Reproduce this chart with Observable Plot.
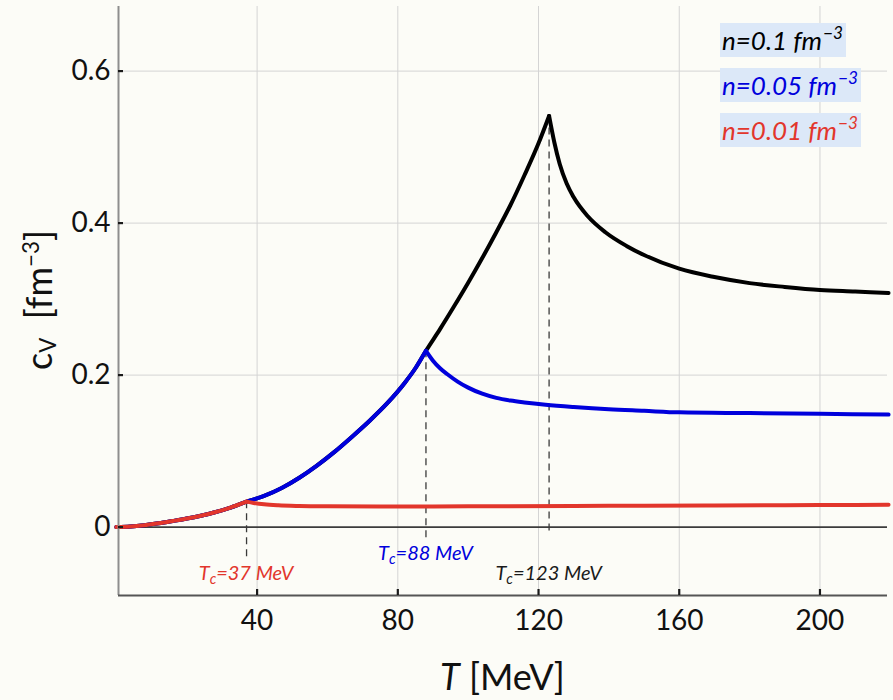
<!DOCTYPE html>
<html>
<head>
<meta charset="utf-8">
<script src="https://cdn.jsdelivr.net/npm/d3@7"></script>
<script src="https://cdn.jsdelivr.net/npm/@observablehq/plot@0.6"></script>
<style>
  html, body { margin: 0; padding: 0; background: #fcfcf7; }
  #wrap { position: relative; width: 893px; height: 700px; font-family: Lato, "Open Sans", sans-serif; }
  .ov { position: absolute; white-space: nowrap; line-height: 1; }
  .leg { font-style: italic; font-size: 26px; background: #dce8f8; padding: 4px 3px 4px 2px; }
  .leg sup { font-size: 0.66em; vertical-align: 0; position: relative; top: -0.62em; margin-left: 1px; }
  .tc { font-style: italic; font-size: 20px; transform: translateX(-50%); }
  .tc sub { font-size: 0.72em; vertical-align: 0; position: relative; top: 0.28em; }
  .xt { font-size: 36px; color: #111; transform: translateX(-50%); }
  .yt { font-size: 36px; color: #111; transform: translate(-50%, -50%) rotate(-90deg); }
  .yt sub { font-size: 0.62em; vertical-align: 0; position: relative; top: 0.2em; }
  .yt sup { font-size: 0.62em; vertical-align: 0; position: relative; top: -0.6em; }
</style>
</head>
<body>
<div id="wrap"></div>
<script>
// ---- data ----
// n = 0.1 fm^-3 (black)
const T_n010_rise = [0, 4, 8, 12, 16, 20, 24, 28, 32, 37, 42, 47, 52, 57, 62, 67, 72, 77, 82, 85, 88, 92, 96, 100, 104, 108, 112, 116, 120, 123];
const cv_n010_rise = [0, 0.0007, 0.0025, 0.005, 0.008, 0.0112, 0.015, 0.0195, 0.025, 0.0335, 0.041, 0.0515, 0.065, 0.081, 0.099, 0.119, 0.140, 0.163, 0.190, 0.209, 0.232, 0.2605, 0.2905, 0.3215, 0.354, 0.388, 0.4235, 0.463, 0.505, 0.541];
const T_n010_fall = [123, 124.5, 126, 128, 130, 134, 139, 145, 150, 160, 170, 180, 190, 200, 210, 219.5];
const cv_n010_fall = [0.541, 0.506, 0.478, 0.452, 0.434, 0.409, 0.388, 0.370, 0.358, 0.340, 0.329, 0.321, 0.316, 0.312, 0.310, 0.308];

// n = 0.05 fm^-3 (blue)
const T_n005_rise = [0, 4, 8, 12, 16, 20, 24, 28, 32, 37, 42, 47, 52, 57, 62, 67, 72, 77, 82, 85, 88];
const cv_n005_rise = [0, 0.0007, 0.0025, 0.005, 0.008, 0.0112, 0.015, 0.0195, 0.025, 0.0335, 0.041, 0.0515, 0.065, 0.081, 0.099, 0.119, 0.140, 0.163, 0.190, 0.209, 0.232];
const T_n005_fall = [88, 90, 92, 94, 97, 100, 104, 108, 112, 116, 122, 130, 140, 150, 160, 180, 200, 219.5];
const cv_n005_fall = [0.232, 0.219, 0.209, 0.2015, 0.1915, 0.1835, 0.1755, 0.170, 0.1665, 0.164, 0.161, 0.158, 0.155, 0.153, 0.151, 0.150, 0.149, 0.148];

// n = 0.01 fm^-3 (red)
const T_n001_rise = [0, 4, 8, 12, 16, 20, 24, 28, 32, 37];
const cv_n001_rise = [0, 0.0007, 0.0025, 0.005, 0.008, 0.0112, 0.015, 0.0195, 0.025, 0.0335];
const T_n001_fall = [37, 39, 42, 46, 52, 60, 75, 90, 110, 130, 150, 170, 190, 210, 219.5];
const cv_n001_fall = [0.0335, 0.0318, 0.0300, 0.0287, 0.0278, 0.0273, 0.0270, 0.0272, 0.0275, 0.0278, 0.0281, 0.0284, 0.0288, 0.0292, 0.0294];

// critical temperatures and peak values
const Tc = [37, 88, 123];
const cvPeak = [0.0335, 0.232, 0.541];
const tcLabels = ["37 MeV", "88 MeV", "123 MeV"];
const legendLabels = ["n=0.1 fm", "n=0.05 fm", "n=0.01 fm"];

// ticks
const xTicks = [40, 80, 120, 160, 200];
const yTicks = [0, 0.2, 0.4, 0.6];
const yTickLabels = ["0", "0.2", "0.4", "0.6"];

// ---- styling ----
const BLACK = "#000000", BLUE = "#0000dc", RED = "#e2362c";
const xDomain = [0.6, 219.2];
const yDomain = [-0.09, 0.685];
// dashed marker lower ends (below zero line)
const dashEnd = [-0.044, -0.015, -0.011];
const tcColors = [RED, BLUE, "#1a1a1a"];

const idx = a => a.map((_, i) => i);
function curve(T, cv, stroke) {
  return Plot.line(idx(T), {x: i => T[i], y: i => cv[i], stroke, strokeWidth: 4, curve: "monotone-x", strokeLinejoin: "miter", strokeMiterlimit: 10});
}

const plot = Plot.plot({
  width: 893,
  height: 700,
  marginLeft: 118,
  marginRight: 6,
  marginTop: 6,
  marginBottom: 105,
  style: {background: "#fcfcf7", fontFamily: "Lato, sans-serif", overflow: "visible"},
  x: {domain: xDomain},
  y: {domain: yDomain},
  marks: [
    Plot.gridX(xTicks, {stroke: "#d4d4d4", strokeOpacity: 1, strokeWidth: 1}),
    Plot.gridY(yTicks.filter(d => d !== 0), {stroke: "#d4d4d4", strokeOpacity: 1, strokeWidth: 1}),
    Plot.ruleY([0], {stroke: "#3c3c3c", strokeWidth: 1.7}),
    Plot.ruleX(idx(Tc), {x: i => Tc[i], y1: i => cvPeak[i], y2: i => dashEnd[i], stroke: "#3a3a3a", strokeWidth: 1.3, strokeDasharray: "7,5"}),
    curve(T_n010_rise, cv_n010_rise, BLACK),
    curve(T_n010_fall, cv_n010_fall, BLACK),
    curve(T_n005_rise, cv_n005_rise, BLUE),
    curve(T_n005_fall, cv_n005_fall, BLUE),
    curve(T_n001_rise, cv_n001_rise, RED),
    curve(T_n001_fall, cv_n001_fall, RED),
    Plot.ruleX([xDomain[0]], {stroke: "#8e8e8e", strokeWidth: 2}),
    Plot.ruleY([yDomain[0]], {stroke: "#555555", strokeWidth: 2}),
    Plot.tickX(xTicks, {insetTop: 583, stroke: "#1a1a1a", strokeWidth: 2.2}),
    Plot.tickY(yTicks, {insetRight: 764, stroke: "#1a1a1a", strokeWidth: 2.2}),
    Plot.axisX(xTicks, {tickSize: 0, tickPadding: 15, fontSize: 28, label: null, fill: "#111", tickFormat: d => String(d)}),
    Plot.axisY(yTicks, {tickSize: 0, tickPadding: 8, fontSize: 28, label: null, fill: "#111", tickFormat: d => yTickLabels[yTicks.indexOf(d)]})
  ]
});

const wrap = document.getElementById("wrap");
wrap.appendChild(plot);
const sx = plot.scale("x");

function addDiv(cls, html, left, top, color) {
  const d = document.createElement("div");
  d.className = "ov " + cls;
  d.innerHTML = html;
  d.style.left = left + "px";
  d.style.top = top + "px";
  if (color) d.style.color = color;
  wrap.appendChild(d);
  return d;
}

// Tc annotations (centered on Tc)
const tcTop = [562, 542, 562];
Tc.forEach((t, i) => {
  addDiv("tc", "T<sub>c</sub>=" + tcLabels[i], sx.apply(t), tcTop[i], tcColors[i]);
});

// legend
const legColors = [BLACK, BLUE, RED];
const legTop = [23, 68, 113];
legendLabels.forEach((s, i) => {
  addDiv("leg", s + "<sup>\u22123</sup>", 720, legTop[i], legColors[i]);
});

// axis titles
addDiv("xt", "<i>T</i> [MeV]", (118 + 887) / 2, 658);
addDiv("yt", "c<sub>V</sub> &nbsp;[fm<sup>\u22123</sup>]", 38, 300);
</script>
</body>
</html>
